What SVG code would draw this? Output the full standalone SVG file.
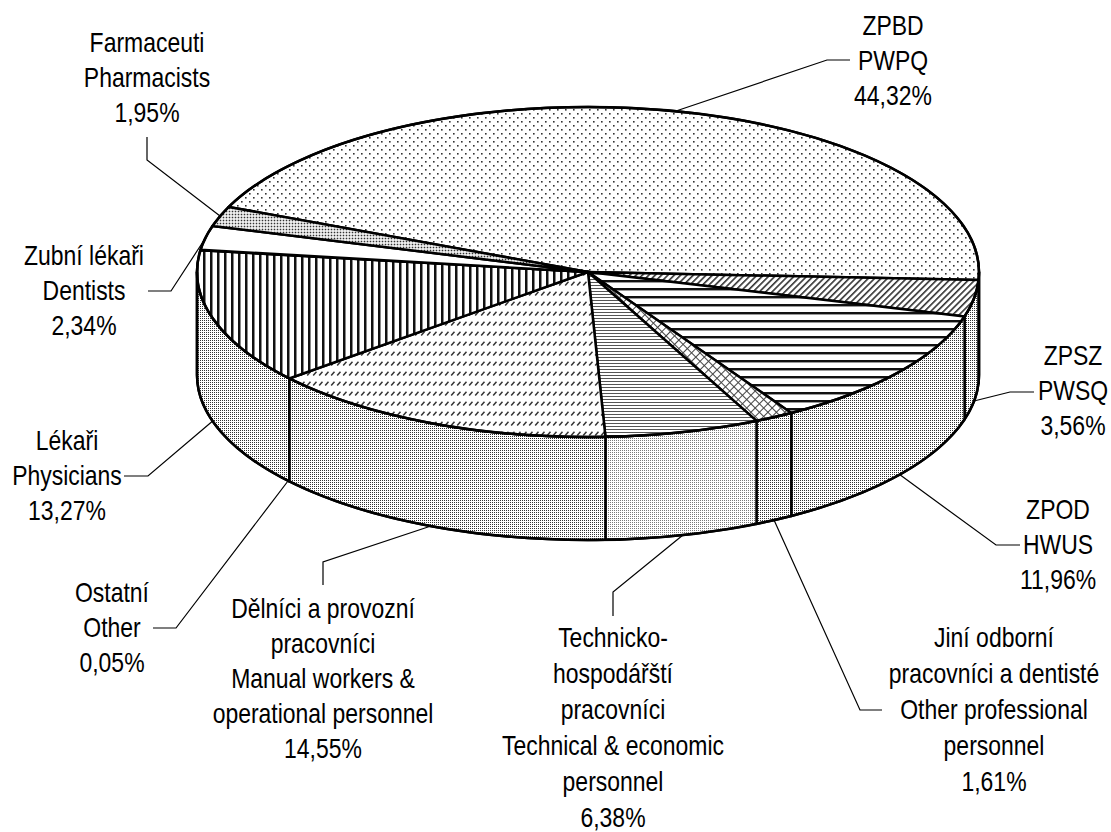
<svg xmlns="http://www.w3.org/2000/svg" width="1111" height="832" viewBox="0 0 1111 832">
<style>
.e{stroke:#000;stroke-width:2.5;stroke-linejoin:round}
.o{fill:none;stroke:#000;stroke-width:2.5}
.ld{fill:none;stroke:#000;stroke-width:1.2}
text{font-family:"Liberation Sans Narrow","Liberation Sans",sans-serif;font-size:28px;fill:#000;text-anchor:middle}
</style>
<defs>
<pattern id="pDots" width="8" height="8" patternUnits="userSpaceOnUse"><rect width="8" height="8" fill="#fff"/><rect x="1" y="1" width="1.6" height="1.6" fill="#333"/><rect x="5" y="5" width="1.6" height="1.6" fill="#333"/></pattern>
<pattern id="pDense" width="3" height="3" patternUnits="userSpaceOnUse"><rect width="3" height="3" fill="#fff"/><rect x="0.7" y="0.7" width="1.6" height="1.6" fill="#333"/></pattern>
<pattern id="pVert" width="7" height="4" patternUnits="userSpaceOnUse"><rect width="7" height="4" fill="#fff"/><rect x="0" y="0" width="2" height="4" fill="#111"/><rect x="2" y="0" width="1" height="4" fill="#888"/></pattern>
<pattern id="pSlash" width="6" height="10" patternUnits="userSpaceOnUse"><rect width="6" height="10" fill="#fff"/><line x1="1.2" y1="5.5" x2="4.5" y2="1.8" stroke="#333" stroke-width="1.5"/></pattern>
<pattern id="pHfine" width="4" height="3" patternUnits="userSpaceOnUse"><rect width="4" height="3" fill="#fff"/><rect x="0" y="0" width="4" height="1" fill="#555"/></pattern>
<pattern id="pCross" width="6" height="6" patternUnits="userSpaceOnUse" patternTransform="rotate(45)"><rect width="6" height="6" fill="#fff"/><rect x="0" y="0" width="6" height="1" fill="#444"/><rect x="0" y="0" width="1" height="6" fill="#444"/></pattern>
<pattern id="pHstripe" width="8" height="8" patternUnits="userSpaceOnUse"><rect width="8" height="8" fill="#fff"/><rect x="0" y="0" width="8" height="2" fill="#111"/><rect x="0" y="2" width="8" height="1" fill="#999"/></pattern>
<pattern id="pDiag" width="4.5" height="4.5" patternUnits="userSpaceOnUse" patternTransform="rotate(45)"><rect width="4.5" height="4.5" fill="#fff"/><rect x="0" y="0" width="1.6" height="4.5" fill="#333"/></pattern>
<pattern id="pWall" width="2" height="2" patternUnits="userSpaceOnUse"><rect width="2" height="2" fill="#fff"/><rect x="0" y="0" width="1" height="1" fill="#333"/></pattern>
<pattern id="pWallL" width="2" height="2" patternUnits="userSpaceOnUse"><rect width="2" height="2" fill="#fff"/><rect x="0" y="0" width="1" height="1" fill="#7a7a7a"/></pattern>
</defs>
<rect width="1111" height="832" fill="#fff"/>

<g id="slice-zpbd">
<path class="e" fill="url(#pWall)" d="M979 272 A391 165 0 0 1 978.53 280.06 L978.53 383.06 A391 165 0 0 0 979 375 Z"/>
<path class="e" fill="url(#pDots)" d="M588 272 L228.68 206.94 A391 165 0 0 1 978.53 280.06 Z"/>
<g transform="translate(893 0) scale(0.82 1)"><text x="0" y="35">ZPBD</text><text x="0" y="70">PWPQ</text><text x="0" y="105">44,32%</text></g>
</g>
<g id="slice-zpsz">
<path class="e" fill="url(#pWall)" d="M978.53 280.06 A391 165 0 0 1 964.56 316.43 L964.56 419.43 A391 165 0 0 0 978.53 383.06 Z"/>
<path class="e" fill="url(#pDiag)" d="M588 272 L978.53 280.06 A391 165 0 0 1 964.56 316.43 Z"/>
<g transform="translate(1073 0) scale(0.82 1)"><text x="0" y="365">ZPSZ</text><text x="0" y="400">PWSQ</text><text x="0" y="435">3,56%</text></g>
</g>
<g id="slice-zpod">
<path class="e" fill="url(#pWall)" d="M964.56 316.43 A391 165 0 0 1 791.31 412.94 L791.31 515.94 A391 165 0 0 0 964.56 419.43 Z"/>
<path class="e" fill="url(#pHstripe)" d="M588 272 L964.56 316.43 A391 165 0 0 1 791.31 412.94 Z"/>
<g transform="translate(1058 0) scale(0.82 1)"><text x="0" y="519">ZPOD</text><text x="0" y="554">HWUS</text><text x="0" y="589">11,96%</text></g>
</g>
<g id="slice-jini">
<path class="e" fill="url(#pWall)" d="M791.31 412.94 A391 165 0 0 1 756.51 420.89 L756.51 523.89 A391 165 0 0 0 791.31 515.94 Z"/>
<path class="e" fill="url(#pCross)" d="M588 272 L791.31 412.94 A391 165 0 0 1 756.51 420.89 Z"/>
<g transform="translate(994 0) scale(0.82 1)"><text x="0" y="647">Jiní odborní</text><text x="0" y="683">pracovníci a dentisté</text><text x="0" y="719">Other professional</text><text x="0" y="755">personnel</text><text x="0" y="791">1,61%</text></g>
</g>
<g id="slice-technicko">
<path class="e" fill="url(#pWallL)" d="M756.51 420.89 A391 165 0 0 1 605.46 436.84 L605.46 539.84 A391 165 0 0 0 756.51 523.89 Z"/>
<path class="e" fill="url(#pHfine)" d="M588 272 L756.51 420.89 A391 165 0 0 1 605.46 436.84 Z"/>
<g transform="translate(613 0) scale(0.82 1)"><text x="0" y="647">Technicko-</text><text x="0" y="683">hospodářští</text><text x="0" y="719">pracovníci</text><text x="0" y="755">Technical &amp; economic</text><text x="0" y="791">personnel</text><text x="0" y="827">6,38%</text></g>
</g>
<g id="slice-delnici">
<path class="e" fill="url(#pWall)" d="M605.46 436.84 A391 165 0 0 1 289.26 378.45 L289.26 481.45 A391 165 0 0 0 605.46 539.84 Z"/>
<path class="e" fill="url(#pSlash)" d="M588 272 L605.46 436.84 A391 165 0 0 1 289.26 378.45 Z"/>
<g transform="translate(323 0) scale(0.82 1)"><text x="0" y="618">Dělníci a provozní</text><text x="0" y="653">pracovníci</text><text x="0" y="688">Manual workers &amp;</text><text x="0" y="723">operational personnel</text><text x="0" y="758">14,55%</text></g>
</g>
<g id="slice-lekari">
<path class="e" fill="url(#pWall)" d="M289.26 378.45 A391 165 0 0 1 197 272 L197 375 A391 165 0 0 0 289.26 481.45 Z"/>
<path class="e" fill="url(#pVert)" d="M588 272 L289.26 378.45 A391 165 0 0 1 200.42 250.21 Z"/>
<g transform="translate(67 0) scale(0.82 1)"><text x="0" y="450">Lékaři</text><text x="0" y="485">Physicians</text><text x="0" y="520">13,27%</text></g>
</g>
<g id="slice-ostatni">
<path class="e" fill="#fff" d="M588 272 L200.42 250.21 A391 165 0 0 1 200.59 249.69 Z"/>
<g transform="translate(112 0) scale(0.82 1)"><text x="0" y="602">Ostatní</text><text x="0" y="637">Other</text><text x="0" y="672">0,05%</text></g>
</g>
<g id="slice-zubni">
<path class="e" fill="#fff" d="M588 272 L200.59 249.69 A391 165 0 0 1 212.53 225.97 Z"/>
<g transform="translate(84 0) scale(0.82 1)"><text x="0" y="265">Zubní lékaři</text><text x="0" y="300">Dentists</text><text x="0" y="335">2,34%</text></g>
</g>
<g id="slice-farmaceuti">
<path class="e" fill="url(#pDense)" d="M588 272 L212.53 225.97 A391 165 0 0 1 228.68 206.94 Z"/>
<g transform="translate(147 0) scale(0.82 1)"><text x="0" y="52">Farmaceuti</text><text x="0" y="87">Pharmacists</text><text x="0" y="122">1,95%</text></g>
</g>

<g id="outline">
<ellipse class="o" cx="588" cy="272" rx="391" ry="165"/>
<path class="o" d="M979 272 L979 375 A391 165 0 0 1 197 375 L197 272"/>
</g>

<g id="connectors">
<polyline class="ld" points="676,111 827,60 850,60"/>
<polyline class="ld" points="220,216 147,160 147,137"/>
<polyline class="ld" points="205.5,238 171,291 148,291"/>
<polyline class="ld" points="212.7,421 148,476 124,476"/>
<polyline class="ld" points="288,481 176,628 153,628"/>
<polyline class="ld" points="431,526 323,562 323,585"/>
<polyline class="ld" points="683,535 613,592 613,616"/>
<polyline class="ld" points="774,520 860,710 882,710"/>
<polyline class="ld" points="899.6,474.6 996,545 1020,545"/>
<polyline class="ld" points="974,401 1010,392 1034,392"/>
</g>
</svg>
